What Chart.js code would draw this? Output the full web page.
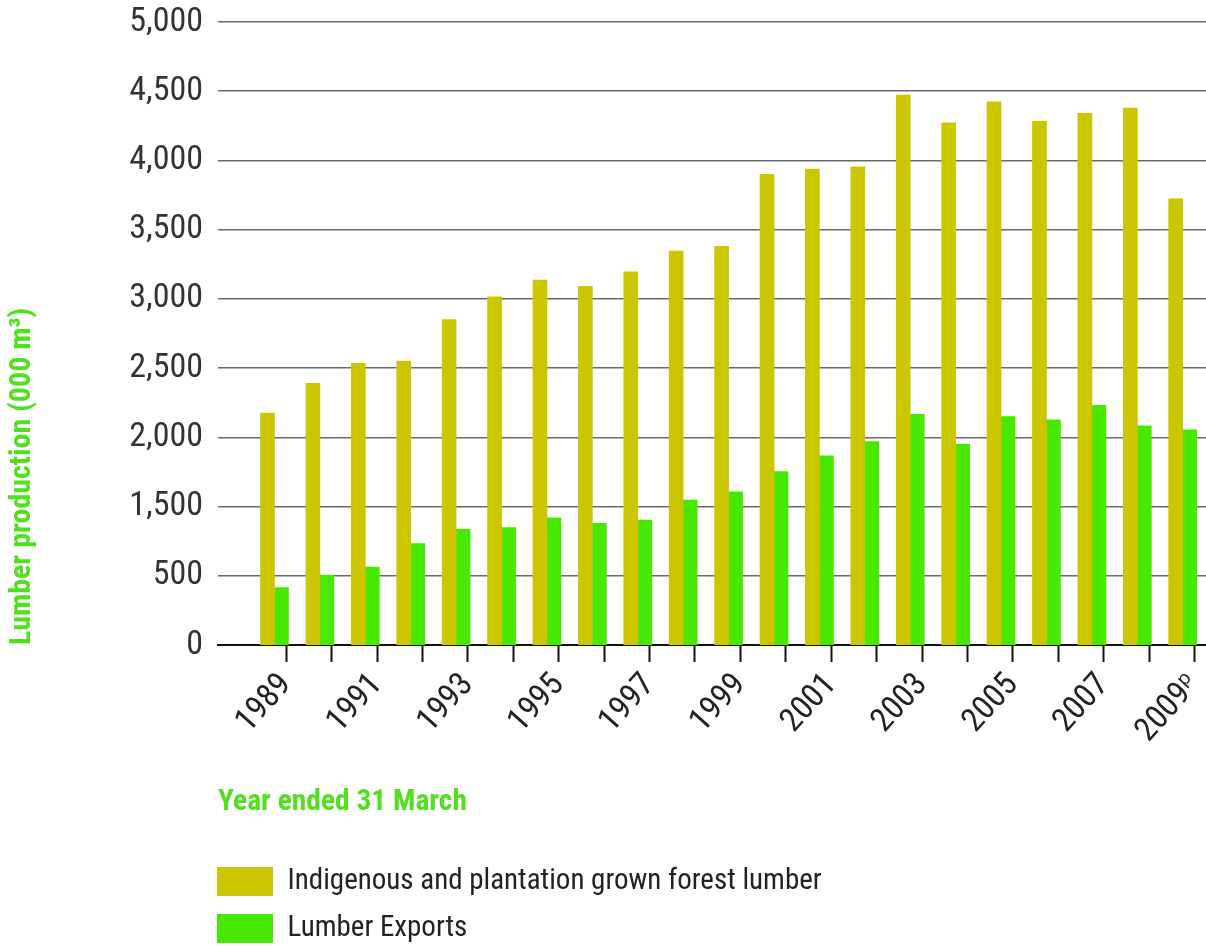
<!DOCTYPE html>
<html>
<head>
<meta charset="utf-8">
<script src="https://cdn.jsdelivr.net/npm/chart.js@4.4.1/dist/chart.umd.min.js"></script>
<style>
  html, body { margin: 0; padding: 0; background: #ffffff; }
  #wrap { width: 1206px; height: 948px; position: relative; }
</style>
</head>
<body>
<div id="wrap"><canvas id="c" width="1206" height="948"></canvas></div>
<script>
// ---- data ----
// Year ended 31 March
const YEARS = ['1989','1990','1991','1992','1993','1994','1995','1996','1997','1998','1999',
               '2000','2001','2002','2003','2004','2005','2006','2007','2008','2009ᵖ'];
// Indigenous and plantation grown forest lumber (000 m3), in gridline units
const PRODUCTION = [2175, 2390, 2535, 2550, 2850, 3015, 3135, 3090, 3195, 3345, 3380,
                    3900, 3938, 3953, 4472, 4272, 4424, 4282, 4341, 4379, 3723];
// Lumber Exports (000 m3), in gridline units
const EXPORTS = [914, 1005, 1063, 1232, 1336, 1349, 1419, 1379, 1403, 1547, 1607,
                 1752, 1867, 1969, 2166, 1950, 2150, 2127, 2231, 2083, 2054];
// Y tick labels exactly as printed on the reference (the second gridline is printed "500")
const Y_TICK_LABELS = ['0','500','1,500','2,000','2,500','3,000','3,500','4,000','4,500','5,000'];
const SERIES_LABELS = ['Indigenous and plantation grown forest lumber', 'Lumber Exports'];

const FONT = '"Roboto Condensed", "Liberation Sans Narrow", "DejaVu Sans Condensed", "Arial Narrow", sans-serif';
const YELLOW = '#CCC600';
const GREEN = '#48E800';
const TITLE_GREEN = '#52DF1E';

const legendPlace = {
  id: 'legendPlace',
  afterLayout(chart) {
    const lg = chart.legend;
    if (!lg) return;
    const pad = lg.options.labels.padding;
    lg.left = 217 - pad;
    lg.right = lg.left + 720;
    lg.top = 867 - pad;
    lg.bottom = 948;
    lg.width = lg.right - lg.left;
    lg.height = lg.bottom - lg.top;
  }
};

new Chart(document.getElementById('c'), {
  type: 'bar',
  data: {
    datasets: [
      { label: SERIES_LABELS[0], data: PRODUCTION.map((v, i) => ({x: i, y: v})), backgroundColor: YELLOW, borderWidth: 0 },
      { label: SERIES_LABELS[1], data: EXPORTS.map((v, i) => ({x: i, y: v})), backgroundColor: GREEN, borderWidth: 0 }
    ]
  },
  options: {
    responsive: false,
    animation: false,
    events: [],
    barThickness: 14,
    layout: { padding: { top: 22, right: 0, bottom: 0, left: 0 } },
    plugins: {
      tooltip: { enabled: false },
      legend: {
        position: 'bottom',
        align: 'start',
        labels: {
          boxWidth: 56, boxHeight: 29, padding: 18,
          color: '#222', font: { family: FONT, size: 29 }
        }
      }
    },
    scales: {
      x: {
        type: 'linear',
        offset: false,
        min: -1.244, max: 20.513,
        afterBuildTicks: s => { s.ticks = YEARS.map((_, i) => ({ value: i + 0.26 })); },
        afterFit: s => { s.height = 246; s.paddingLeft = 0; s.paddingRight = 0; },
        grid: { offset: false, display: true, drawOnChartArea: false, drawTicks: true, tickLength: 17, tickColor: '#111', tickWidth: 2, color: 'rgba(0,0,0,0)' },
        border: { display: true, color: '#111', width: 2 },
        ticks: {
          autoSkip: false, minRotation: 48, maxRotation: 48, padding: 4,
          color: '#222', font: { family: FONT, size: 33 },
          callback: (v, i) => (i % 2 === 0 ? YEARS[i] : '')
        },
        title: {
          display: true, text: 'Year ended 31 March', align: 'start',
          color: TITLE_GREEN, font: { family: FONT, size: 29.5, weight: 'bold' },
          padding: { top: 0, bottom: 71 }
        }
      },
      y: {
        type: 'linear',
        min: 500, max: 5000,
        afterBuildTicks: s => { s.ticks = Y_TICK_LABELS.map((_, i) => ({ value: 500 + i * 500 })); },
        afterFit: s => { s.width = 218; s.paddingTop = 0; s.paddingBottom = 0; },
        grid: {
          drawTicks: false,
          color: c => (c.tick && c.tick.value === 500 ? 'rgba(0,0,0,0)' : '#6a6a6a'),
          lineWidth: 1.5
        },
        border: { display: false },
        ticks: {
          padding: 15, color: '#333', font: { family: FONT, size: 34 },
          callback: v => Y_TICK_LABELS[Math.round((v - 500) / 500)]
        },
        title: {
          display: true, text: 'Lumber production (000 m³)', align: 'start',
          color: TITLE_GREEN, font: { family: FONT, size: 30, weight: 'bold' },
          padding: { top: 4, bottom: 0 }
        }
      }
    }
  },
  plugins: [legendPlace]
});
</script>
</body>
</html>
